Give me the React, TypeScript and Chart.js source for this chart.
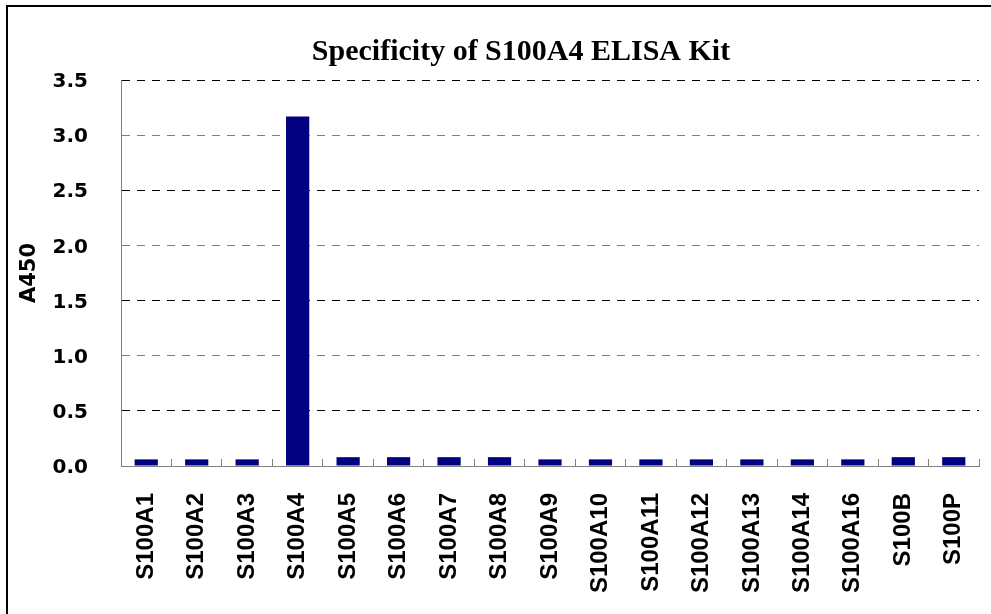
import React, { useEffect, useRef } from "react";
import { Chart, registerables } from "chart.js";

Chart.register(...registerables);

const categories = [
  "S100A1", "S100A2", "S100A3", "S100A4", "S100A5", "S100A6", "S100A7", "S100A8",
  "S100A9", "S100A10", "S100A11", "S100A12", "S100A13", "S100A14", "S100A16", "S100B", "S100P",
];
const a450Values = [
  0.06, 0.06, 0.06, 3.17, 0.08, 0.08, 0.08, 0.08,
  0.06, 0.06, 0.06, 0.06, 0.06, 0.06, 0.06, 0.08, 0.08,
];
const yMin = 0;
const yMax = 3.5;
const yStep = 0.5;
const titleText = "Specificity of S100A4 ELISA Kit";
const yTitle = "A450";

export default function App() {
  const ref = useRef<HTMLCanvasElement | null>(null);

  useEffect(() => {
    if (!ref.current) return;
    const chart = new Chart(ref.current, {
      type: "bar",
      data: {
        labels: categories,
        datasets: [
          {
            data: a450Values,
            backgroundColor: "#000080",
            borderWidth: 0,
            barPercentage: 0.46,
            categoryPercentage: 1,
            yAxisID: "y",
          },
        ],
      },
      options: {
        responsive: false,
        animation: false,
        devicePixelRatio: 1,
        layout: { padding: 0 },
        plugins: {
          legend: { display: false },
          tooltip: { enabled: false },
          title: {
            display: true,
            text: titleText,
            color: "#000",
            font: { family: "'Liberation Serif', 'Times New Roman', serif", size: 30, weight: "bold" },
            padding: { top: 27, bottom: 10 },
          },
        },
        scales: {
          x: {
            afterFit: (s: any) => {
              s.height = 181;
            },
            grid: {
              display: true,
              drawOnChartArea: false,
              drawTicks: true,
              tickLength: -7,
              color: "#808080",
              lineWidth: 1,
              offset: true,
            },
            border: { display: true, color: "#808080", width: 1 },
            ticks: {
              autoSkip: false,
              minRotation: 90,
              maxRotation: 90,
              padding: 34,
              color: "#000",
              font: { family: "'Liberation Sans', Arial, sans-serif", size: 24, weight: "bold" },
            },
          },
          y: {
            min: yMin,
            max: yMax,
            afterFit: (s: any) => {
              s.width = 113;
            },
            grid: {
              drawTicks: false,
              lineWidth: 1,
              color: (ctx: any) => (ctx.index % 2 === 1 ? "#000" : "#808080"),
            },
            border: { display: true, color: "#808080", width: 1, dash: [8, 7] },
            ticks: {
              stepSize: yStep,
              padding: 33,
              labelOffset: 2,
              color: "#000",
              font: { family: "'DejaVu Sans', sans-serif", size: 20, weight: "bold" },
              callback: (v: any) => Number(v).toFixed(1),
            },
            title: {
              display: true,
              text: yTitle,
              color: "#000",
              padding: { top: 9, bottom: 0 },
              font: { family: "'DejaVu Sans', sans-serif", size: 21, weight: "bold" },
            },
          },
          yRight: {
            type: "linear",
            position: "right",
            min: yMin,
            max: yMax,
            afterFit: (s: any) => {
              s.width = 55;
            },
            grid: { display: false, drawTicks: false },
            border: { display: false },
            ticks: { display: false },
          },
        },
      },
    });
    return () => chart.destroy();
  }, []);

  return (
    <div
      style={{
        position: "absolute",
        left: 0,
        top: 0,
        width: 991,
        height: 614,
        overflow: "hidden",
        background: "#fff",
      }}
    >
      <div
        style={{
          position: "absolute",
          left: 6,
          top: 5,
          width: 1026,
          height: 640,
          border: "2px solid #000",
          background: "#fff",
        }}
      >
        <canvas ref={ref} width={1026} height={640} style={{ display: "block" }} />
      </div>
    </div>
  );
}
